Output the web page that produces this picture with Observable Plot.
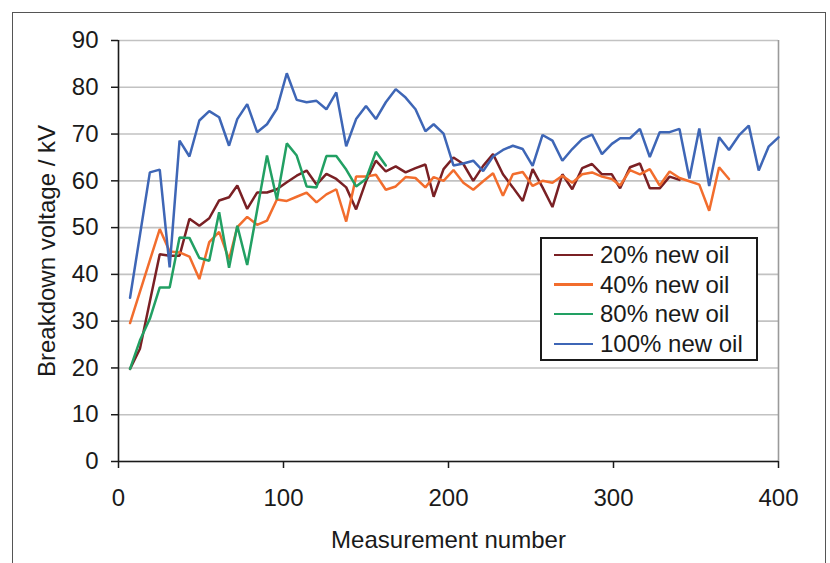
<!DOCTYPE html>
<html>
<head>
<meta charset="utf-8">
<script src="https://cdn.jsdelivr.net/npm/d3@7"></script>
<script src="https://cdn.jsdelivr.net/npm/@observablehq/plot@0.6"></script>
<style>
  html, body { margin: 0; padding: 0; background: #fff; }
  #wrap { position: relative; width: 830px; height: 563px; overflow: hidden; font-family: "Liberation Sans", Arial, sans-serif; color: #1a1a1a; }
  #frame { position: absolute; left: 12px; top: 12px; width: 814px; height: 570px; border: 1.5px solid #555; box-sizing: border-box; pointer-events: none; }
  #chart { position: absolute; left: 0; top: 0; }
  #legend { position: absolute; left: 540px; top: 237px; width: 218px; height: 124px; border: 2px solid #1a1a1a; box-sizing: border-box; background: #fff; padding: 1px 0 0 12px; }
  #legend .row { display: flex; align-items: center; height: 29.7px; font-size: 24px; line-height: 29.7px; white-space: nowrap; }
  #legend .sw { width: 39px; height: 2.5px; margin-right: 7px; }
</style>
</head>
<body>
<div id="wrap">
  <div id="chart"></div>
  <div id="legend"></div>
  <div id="frame"></div>
</div>
<script>
// Measurement numbers (x positions of the data points)
const measurement = [7,13,19,25,31,37,43,49,55,61,67,72,78,84,90,96,102,108,114,120,126,132,138,144,150,156,162,168,174,180,186,191,197,203,209,215,221,227,233,239,245,251,257,263,269,275,281,287,293,299,304,310,316,322,328,334,340,346,352,358,364,370,376,382,388,394,400];

// Breakdown voltage (kV); null = no visible vertex
const oil20 = [19.8,24.1,null,44.3,44.0,44.0,51.9,50.4,52.0,55.8,56.5,59.0,54.0,57.5,57.5,58.2,59.7,61.1,62.2,59.2,61.5,60.4,58.6,53.9,59.9,64.3,62.0,63.1,61.8,62.7,63.5,56.6,62.5,65.0,63.6,60.0,63.2,65.7,61.4,58.6,55.7,62.5,58.6,54.4,61.4,58.2,62.7,63.6,61.4,61.4,58.4,62.9,63.7,58.4,58.4,60.9,60.2];
const oil40 = [29.6,null,null,49.7,44.9,44.7,43.8,39.0,46.9,49.1,43.2,50.1,52.3,50.6,51.5,56.0,55.7,56.6,57.5,55.4,57.1,58.2,51.3,60.9,60.9,61.3,58.1,58.8,60.8,60.6,58.6,60.8,60.0,62.3,59.6,58.1,59.9,61.6,56.8,61.4,61.9,58.9,60.0,59.6,61.1,59.6,61.4,61.8,60.9,60.4,59.0,62.3,61.4,62.5,59.0,62.0,60.6,59.9,59.2,53.6,62.9,60.4];
const oil80 = [19.8,25.9,30.5,37.2,37.2,47.9,47.8,43.5,42.9,53.3,41.4,50.4,42.0,null,65.4,56.0,68.0,65.4,58.8,58.6,65.3,65.3,62.4,58.8,60.4,66.2,63.3];
const oil100 = [35.0,null,61.8,62.4,41.5,68.6,65.2,72.9,74.9,73.6,67.5,73.2,76.4,70.4,72.1,75.4,83.0,77.3,76.8,77.1,75.3,78.9,67.4,73.2,76.0,73.2,76.8,79.6,77.8,75.3,70.6,72.1,70.1,63.3,63.7,64.3,62.1,65.2,66.6,67.5,66.8,63.2,69.8,68.6,64.3,66.8,68.9,69.9,65.7,67.9,69.1,69.1,71.1,65.1,70.4,70.4,71.1,60.5,71.2,58.9,69.3,66.6,69.7,71.8,62.2,67.3,69.3];

const seriesNames = ["20% new oil", "40% new oil", "80% new oil", "100% new oil"];
const seriesColors = ["#7a2024", "#f26d2d", "#22a063", "#3e66b6"];
const seriesValues = [oil20, oil40, oil80, oil100];

const xTicks = [0, 100, 200, 300, 400];
const yTicks = [0, 10, 20, 30, 40, 50, 60, 70, 80, 90];
const xLabel = "Measurement number";
const yLabel = "Breakdown voltage / kV";

const rows = [];
seriesValues.forEach((vals, s) => {
  vals.forEach((v, i) => {
    if (v !== null) rows.push({series: seriesNames[s], x: measurement[i], y: v});
  });
});

const chart = Plot.plot({
  width: 830,
  height: 563,
  marginLeft: 118,
  marginRight: 52,
  marginTop: 40,
  marginBottom: 102,
  style: {fontFamily: "Liberation Sans, Arial, sans-serif", fontSize: "24px", color: "#1a1a1a", background: "transparent"},
  x: {domain: [0, 400]},
  y: {domain: [0, 90]},
  color: {domain: seriesNames, range: seriesColors},
  marks: [
    Plot.gridY(yTicks, {stroke: "#c2c2c2", strokeOpacity: 1, strokeWidth: 1.6}),
    Plot.ruleX([400], {stroke: "#9a9a9a", strokeWidth: 1.6}),
    Plot.line(rows, {x: "x", y: "y", z: "series", stroke: "series", strokeWidth: 2.5, strokeLinejoin: "miter"}),
    Plot.ruleY([0], {stroke: "#1a1a1a", strokeWidth: 1.6}),
    Plot.ruleX([0], {stroke: "#1a1a1a", strokeWidth: 1.6}),
    Plot.axisY({ticks: yTicks, tickSize: 7, tickPadding: 13, fontSize: 24, label: null, strokeWidth: 1.5}),
    Plot.axisX({ticks: xTicks, tickSize: 7, tickPadding: 20, fontSize: 24, label: null, strokeWidth: 1.5}),
    Plot.text([yLabel], {frameAnchor: "left", dx: -71, rotate: -90, textAnchor: "middle", lineAnchor: "middle", fontSize: 24, fill: "#1a1a1a"}),
    Plot.text([xLabel], {frameAnchor: "bottom", dy: 79, textAnchor: "middle", lineAnchor: "middle", fontSize: 24, fill: "#1a1a1a"})
  ]
});
document.getElementById("chart").appendChild(chart);

const legend = document.getElementById("legend");
seriesNames.forEach((name, i) => {
  const row = document.createElement("div");
  row.className = "row";
  const sw = document.createElement("div");
  sw.className = "sw";
  sw.style.background = seriesColors[i];
  const label = document.createElement("span");
  label.textContent = name;
  row.appendChild(sw);
  row.appendChild(label);
  legend.appendChild(row);
});
</script>
</body>
</html>
